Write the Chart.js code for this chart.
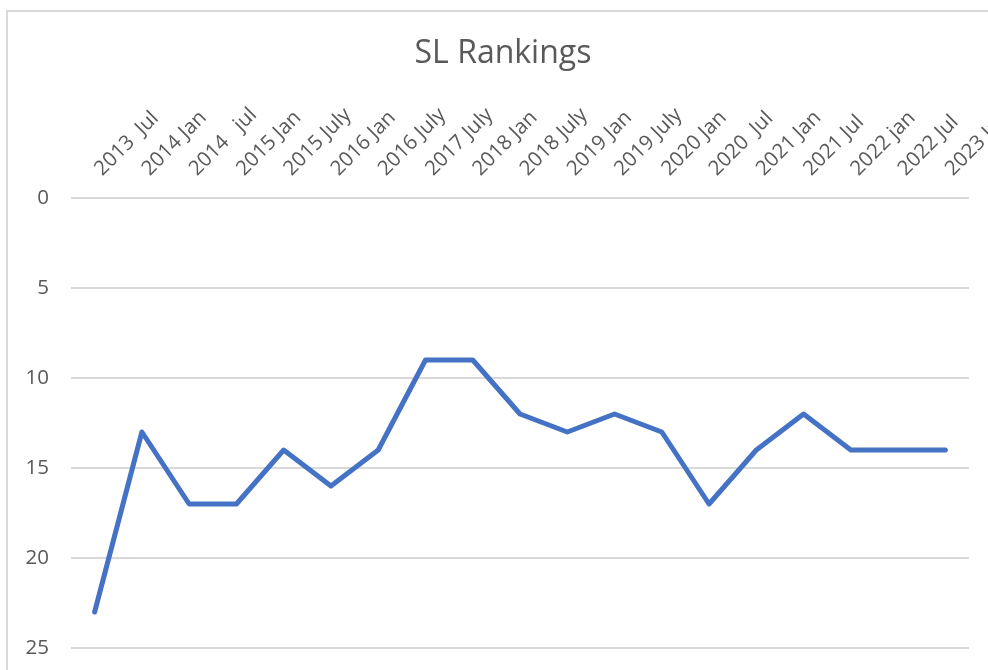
<!DOCTYPE html>
<html>
<head>
<meta charset="utf-8">
<script src="https://cdn.jsdelivr.net/npm/chart.js@4"></script>
<style>
  html, body { margin: 0; padding: 0; background: #fff; overflow: hidden; }
  #frame {
    position: absolute; left: 6px; top: 10px;
    border-left: 2px solid #d9d9d9; border-top: 2px solid #d9d9d9;
    width: 1000px; height: 700px;
  }
</style>
</head>
<body>
<div id="frame"><canvas id="rank_chart" width="1000" height="700"></canvas></div>
<script>
const periods = ['2013  Jul', '2014 Jan', '2014   jul', '2015 Jan', '2015 July', '2016 Jan', '2016 July',
  '2017 July', '2018 Jan', '2018 July', '2019 Jan', '2019 July', '2020 Jan', '2020  Jul', '2021 Jan',
  '2021 Jul', '2022 jan', '2022 Jul', '2023 Jul'];
const rankings = [23, 13, 17, 17, 14, 16, 14, 9, 9, 12, 13, 12, 13, 17, 14, 12, 14, 14, 14];
const yTicks = [0, 5, 10, 15, 20, 25];

const rank_ctx = document.getElementById('rank_chart').getContext('2d');

new Chart(rank_ctx, {
  type: 'line',
  data: {
    labels: periods,
    datasets: [{
      label: 'SL Rankings',
      data: rankings,
      borderColor: '#4472c4',
      backgroundColor: '#4472c4',
      borderWidth: 5,
      borderJoinStyle: 'round',
      borderCapStyle: 'round',
      pointRadius: 0,
      tension: 0
    }]
  },
  options: {
    responsive: false,
    animation: false,
    layout: { padding: { left: 14, right: 24, top: 0, bottom: 64 } },
    plugins: {
      legend: { display: false },
      tooltip: { enabled: false },
      title: {
        display: true,
        text: 'SL Rankings',
        color: '#595959',
        font: { family: '"Open Sans"', size: 32, weight: 'normal', lineHeight: 1 },
        padding: { top: 26, bottom: 0 }
      }
    },
    scales: {
      x: {
        position: 'top',
        offset: true,
        grid: { display: false, drawTicks: false },
        border: { display: false },
        ticks: {
          color: '#595959',
          font: { family: '"Open Sans"', size: 20.5 },
          minRotation: 45,
          maxRotation: 45,
          autoSkip: false,
          labelOffset: 21,
          padding: 17
        },
        afterFit: (scale) => {
          scale.height = 128;
          scale.paddingLeft = 0;
          scale.paddingRight = 39;
        }
      },
      y: {
        reverse: true,
        min: 0,
        max: 25,
        afterBuildTicks: (scale) => {
          scale.ticks = yTicks.map(v => ({ value: v }));
        },
        grid: { color: '#d9d9d9', lineWidth: 2, drawTicks: false },
        border: { display: false },
        ticks: {
          color: '#595959',
          font: { family: '"Open Sans"', size: 20.5 },
          padding: 22
        },
        afterFit: (scale) => {
          scale.width = 49;
          scale.paddingTop = 0;
          scale.paddingBottom = 0;
        }
      }
    }
  }
});
</script>
</body>
</html>
